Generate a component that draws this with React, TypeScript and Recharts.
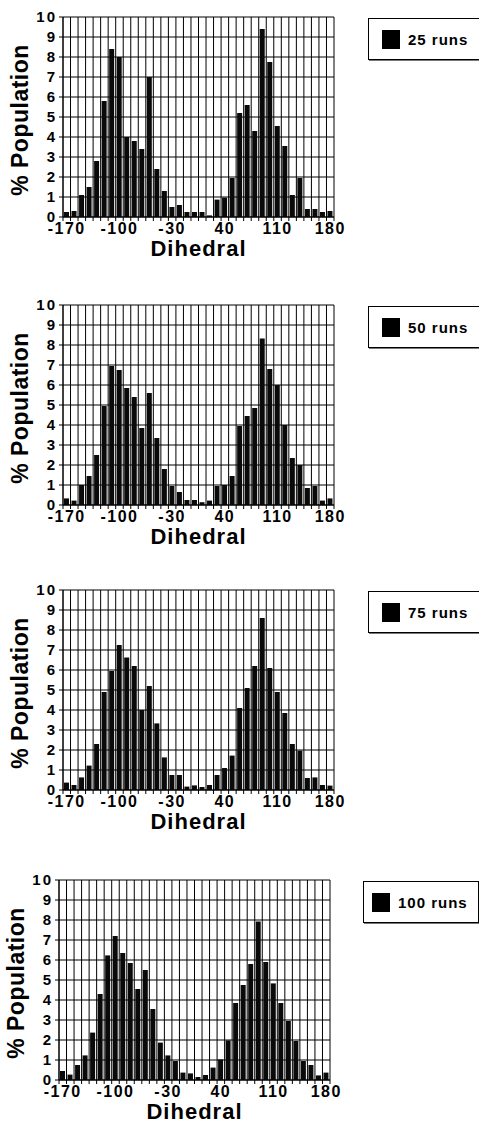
import React from 'react';
import { BarChart, Bar, XAxis, YAxis, CartesianGrid, Legend, Label } from 'recharts';

// dihedral bins (10 deg wide), bin centres
const angles = [
  -170, -160, -150, -140, -130, -120, -110, -100, -90, -80, -70, -60,
  -50, -40, -30, -20, -10, 0, 10, 20, 30, 40, 50, 60,
  70, 80, 90, 100, 110, 120, 130, 140, 150, 160, 170, 180,
];
// bin edges, used for the grid
const binEdges = [
  -175, -165, -155, -145, -135, -125, -115, -105, -95, -85, -75, -65, -55,
  -45, -35, -25, -15, -5, 5, 15, 25, 35, 45, 55, 65, 75, 85,
  95, 105, 115, 125, 135, 145, 155, 165, 175, 185,
];
const angleLabels = [-170, -100, -30, 40, 110, 180];
const pctTicks = [0, 1, 2, 3, 4, 5, 6, 7, 8, 9, 10];

const runNames = ['25 runs', '50 runs', '75 runs', '100 runs'];

const runs25 = [
  0.25, 0.3, 1.1, 1.5, 2.8, 5.8, 8.4, 8.0, 4.0, 3.8, 3.4, 7.0,
  2.4, 1.3, 0.5, 0.6, 0.25, 0.25, 0.25, 0.08, 0.87, 0.97, 1.95, 5.2,
  5.6, 4.3, 9.4, 7.75, 4.55, 3.55, 1.1, 1.95, 0.4, 0.4, 0.25, 0.3,
];
const runs50 = [
  0.33, 0.22, 1.0, 1.45, 2.5, 4.95, 6.95, 6.75, 5.85, 5.4, 3.85, 5.6,
  3.35, 1.8, 0.95, 0.65, 0.25, 0.25, 0.14, 0.22, 0.95, 1.0, 1.45, 3.95,
  4.45, 4.85, 8.33, 6.8, 6.0, 4.0, 2.35, 2.0, 0.85, 0.95, 0.22, 0.33,
];
const runs75 = [
  0.37, 0.25, 0.63, 1.22, 2.3, 4.9, 5.95, 7.25, 6.63, 6.2, 4.0, 5.2,
  3.33, 1.63, 0.75, 0.75, 0.17, 0.23, 0.15, 0.25, 0.75, 1.1, 1.72, 4.1,
  5.1, 6.2, 8.6, 6.1, 4.9, 3.85, 2.3, 1.97, 0.6, 0.63, 0.25, 0.22,
];
const runs100 = [
  0.45, 0.27, 0.75, 1.23, 2.37, 4.3, 6.23, 7.2, 6.35, 5.85, 4.55, 5.5,
  3.55, 1.87, 1.23, 0.95, 0.37, 0.33, 0.15, 0.25, 0.62, 1.03, 1.98, 3.85,
  4.75, 5.8, 7.93, 5.9, 4.83, 3.85, 2.95, 1.95, 0.95, 0.75, 0.23, 0.37,
];

const FONT = '"Liberation Sans", Arial, Helvetica, sans-serif';

// tick marks only, no text on the bin-edge axis
const NoText = () => <g />;

const LegendBox = ({ payload, pad }: any) => {
  const item = payload && payload[0];
  if (!item) return null;
  return (
    <div
      style={{
        width: 116,
        height: 42,
        boxSizing: 'border-box',
        border: '1px solid #000',
        boxShadow: '1px 1px 0 #777',
        background: '#fff',
        display: 'flex',
        alignItems: 'center',
        paddingLeft: pad,
        fontFamily: FONT,
        fontWeight: 'bold',
        fontSize: 15,
        letterSpacing: 1,
        color: '#000',
      }}
    >
      <span style={{ display: 'inline-block', width: 18, height: 19, background: '#000', marginRight: 8 }} />
      <span>{item.value}</span>
    </div>
  );
};

const YTitle = ({ viewBox }: any) => {
  const { x, y, height } = viewBox;
  return (
    <text
      transform={`translate(${x + 28}, ${y + height / 2 + 3}) rotate(-90)`}
      textAnchor="middle"
      fontFamily={FONT}
      fontWeight="bold"
      fontSize={23}
      letterSpacing={0.5}
      fill="#000"
    >
      % Population
    </text>
  );
};

const XTitle = ({ viewBox }: any) => {
  const { x, y, width } = viewBox;
  return (
    <text
      x={x + width / 2}
      y={y + 34}
      textAnchor="middle"
      fontFamily={FONT}
      fontWeight="bold"
      fontSize={22}
      letterSpacing={1}
      fill="#000"
    >
      Dihedral
    </text>
  );
};

const Panel = ({ values, name, top, left, pad, legendX }: any) => {
  const data = angles.map((a, i) => ({ angle: a, pct: values[i] }));
  return (
    <div style={{ position: 'absolute', top, left }}>
      <BarChart width={479} height={280} data={data} margin={{ top: 17, right: 145, bottom: 18, left: 0 }}>
        <CartesianGrid stroke="#000" strokeWidth={1} />
        <XAxis
          dataKey="angle"
          type="number"
          domain={[-175, 185]}
          allowDataOverflow
          ticks={binEdges}
          interval={0}
          tick={<NoText />}
          tickSize={4}
          height={5}
          axisLine={{ stroke: '#000' }}
          tickLine={{ stroke: '#000' }}
        />
        <XAxis
          xAxisId="lbl"
          dataKey="angle"
          type="number"
          domain={[-175, 185]}
          allowDataOverflow
          ticks={angleLabels}
          interval={0}
          height={40}
          axisLine={false}
          tickLine={false}
          tickSize={0}
          tickMargin={1}
          tick={{ fill: '#000', fontSize: 16, fontWeight: 'bold', fontFamily: FONT, letterSpacing: 1.5 }}
        >
          <Label content={<XTitle />} />
        </XAxis>
        <YAxis
          type="number"
          domain={[0, 10]}
          ticks={pctTicks}
          interval={0}
          width={63}
          tickSize={4}
          tickMargin={2}
          axisLine={{ stroke: '#000' }}
          tickLine={{ stroke: '#000' }}
          tick={{ fill: '#000', fontSize: 15, fontWeight: 'bold', fontFamily: FONT, letterSpacing: 2 }}
        >
          <Label content={<YTitle />} />
        </YAxis>
        <Legend
          layout="horizontal"
          verticalAlign="middle"
          align="center"
          content={<LegendBox pad={pad} />}
          wrapperStyle={{ left: legendX - left, top: 18, width: 116 }}
        />
        <Bar dataKey="pct" name={name} fill="#0a0a0a" barSize={5} isAnimationActive={false} />
      </BarChart>
    </div>
  );
};

export default function App() {
  return (
    <div
      style={{
        position: 'absolute',
        left: 0,
        top: 0,
        width: 479,
        height: 1126,
        overflow: 'hidden',
        background: '#fff',
      }}
    >
      <Panel values={runs25} name={runNames[0]} top={0} left={0} pad={13} legendX={368} />
      <Panel values={runs50} name={runNames[1]} top={288} left={0} pad={13} legendX={368} />
      <Panel values={runs75} name={runNames[2]} top={573} left={0} pad={13} legendX={368} />
      <Panel values={runs100} name={runNames[3]} top={863} left={-4} pad={8} legendX={363} />
    </div>
  );
}
